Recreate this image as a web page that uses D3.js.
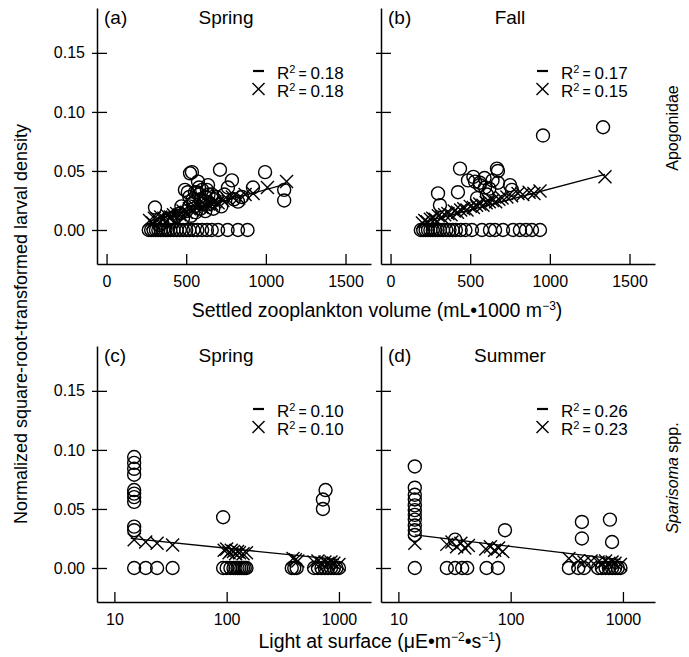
<!DOCTYPE html>
<html lang="en">
<head>
<meta charset="UTF-8">
<title>Larval density vs zooplankton and light</title>
<style>
  body { margin: 0; background: #fff; }
  svg text { font-family: 'Liberation Sans', Arial, sans-serif; fill: #000; }
</style>
</head>
<body>
<script src="https://cdnjs.cloudflare.com/ajax/libs/d3/7.8.5/d3.min.js"></script>
<script>
// (a) Apogonidae, spring — zooplankton volume vs density
var obsA = [
  [265,0],[280,0],[295,0],[310,0],[325,0],[340,0],[355,0],[370,0],[385,0],[400,0],[420,0],[440,0],[460,0],
  [480,0],[500,0],[520,0],[545,0],[570,0],[600,0],[630,0],[660,0],[700,0],[760,0],[825,0],[885,0],
  [304,.019],[330,.004],[350,.006],[380,.008],[400,.010],[420,.007],[440,.012],[460,.014],[480,.010],
  [492,.034],[500,.016],[510,.032],[520,.020],[524,.048],[536,.049],[540,.026],[555,.032],[568,.032],
  [574,.041],[580,.030],[590,.018],[600,.034],[610,.025],[620,.028],[637,.038],[650,.022],[660,.030],
  [680,.026],[712,.051],[720,.020],[740,.030],[762,.036],[787,.042],[800,.026],[825,.024],[850,.028],
  [919,.036],[995,.049],[1115,.034],[1115,.025],
  [470,.020],[520,.028],[530,.012],[550,.024],[560,.015],[580,.036],[590,.026],[600,.022],[620,.016],
  [630,.034],[640,.030],[670,.018],[690,.028]
];
var predA = [
  [270,.008],[290,.006],[300,.010],[320,.009],[340,.011],[360,.010],[380,.012],[400,.011],[420,.013],
  [440,.014],[460,.013],[480,.016],[500,.015],[520,.018],[540,.017],[560,.019],[580,.020],[600,.019],
  [620,.021],[640,.022],[660,.022],[680,.024],[700,.023],[730,.025],[760,.026],[790,.028],[830,.027],
  [870,.030],[920,.031],[1010,.036],[1130,.041]
];
var fitA = [[260,.007],[1130,.039]];
var r2A = ['0.18', '0.18'];

// (b) Apogonidae, fall
var obsB = [
  [190,0],[205,0],[220,0],[235,0],[250,0],[265,0],[280,0],[295,0],[310,0],[330,0],[350,0],[370,0],[390,0],
  [410,0],[440,0],[470,0],[511,0],[574,0],[624,0],[656,0],[706,0],[769,0],[812,0],[850,0],[888,0],[938,0],
  [298,.031],[310,.021],[423,.032],[436,.052],[486,.042],[530,.041],[543,.027],[561,.040],[593,.036],
  [605,.030],[668,.052],[674,.050],[674,.040],[750,.038],[762,.034],[957,.080],[1334,.087],
  [520,.045],[560,.038],[590,.044],[620,.035],[640,.042]
];
var predB = [
  [200,.006],[215,.008],[230,.007],[250,.009],[265,.010],[280,.009],[300,.012],[320,.011],[340,.013],
  [360,.014],[380,.013],[400,.016],[420,.015],[440,.017],[460,.018],[480,.017],[500,.020],[520,.019],
  [540,.021],[560,.022],[580,.021],[600,.023],[620,.024],[640,.025],[660,.024],[680,.026],[700,.027],
  [730,.028],[760,.029],[800,.031],[830,.030],[870,.032],[900,.031],[938,.033],[1346,.045]
];
var fitB = [[190,.006],[1346,.047]];
var r2B = ['0.17', '0.15'];

// (c) Sparisoma spp., spring — surface light vs density
var obsC = [
  [15,.094],[15,.089],[15,.084],[15,.079],[15,.066],[15,.063],[15,.060],[15,.056],[15,.035],[15,.032],
  [15,0],[19,0],[24,0],[33,0],
  [93,.043],[93,0],[100,0],[108,0],[115,0],[120,0],[125,0],[130,0],[135,0],[140,0],[145,0],[150,0],
  [720,.058],[760,.066],[720,.050],
  [380,0],[400,0],[420,0],[600,0],[650,0],[700,0],[750,0],[800,0],[850,0],[900,0],[950,0],[1000,0]
];
var predC = [
  [15,.024],[19,.022],[24,.021],[33,.0195],
  [95,.015],[100,.016],[105,.013],[110,.015],[115,.014],[120,.012],[125,.014],[130,.013],[140,.012],[150,.013],
  [390,.008],[410,.007],[430,.006],[600,.005],[650,.006],[700,.004],[750,.005],[800,.004],[850,.005],
  [900,.004],[1000,.003]
];
var fitC = [[14,.025],[1000,.007]];
var r2C = ['0.10', '0.10'];

// (d) Sparisoma spp., summer
var obsD = [
  [14,.086],[14,.068],[14,.062],[14,.058],[14,.053],[14,.049],[14,.045],[14,.041],[14,.036],[14,.032],
  [14,.028],[14,0],
  [27,0],[32,0],[37,0],[41,0],[32,.024],
  [61,0],[77,0],[89,.032],
  [431,.039],[766,.041],[431,.025],[800,.022],
  [330,0],[400,0],[450,0],[600,0],[650,0],[700,0],[750,0],[800,0],[850,0],[900,0],[950,0]
];
var predD = [
  [14,.021],
  [27,.020],[30,.022],[33,.018],[36,.021],[39,.017],[42,.019],
  [60,.016],[66,.018],[72,.015],[78,.017],[85,.014],
  [330,.008],[400,.006],[450,.005],[520,.006],[600,.005],[650,.004],[700,.006],[750,.004],[800,.005],
  [850,.004],[950,.003]
];
var fitD = [[14,.028],[950,.007]];
var r2D = ['0.26', '0.23'];

var linTicks = [0, 500, 1000, 1500];
var logTicks = [10, 100, 1000];
var yTicks = [0, 0.05, 0.10, 0.15];

var W = 689, H = 657;
var pw = 274, ph = 256;

var svg = d3.select('body').append('svg')
  .attr('width', W).attr('height', H);

var xLin = d3.scaleLinear().domain([-60, 1660]).range([0, pw]);
var xLog = d3.scaleLog().domain([7, 1930]).range([0, pw]);
var y = d3.scaleLinear().domain([-0.0288, 0.188]).range([ph, 0]);

var panels = [
  {left: 97,  top: 8,   x: xLin, ticks: linTicks, obs: obsA, pred: predA, fit: fitA, r2: r2A, tag: '(a)', season: 'Spring', yLabels: true},
  {left: 381, top: 8,   x: xLin, ticks: linTicks, obs: obsB, pred: predB, fit: fitB, r2: r2B, tag: '(b)', season: 'Fall', yLabels: false},
  {left: 97,  top: 346, x: xLog, ticks: logTicks, obs: obsC, pred: predC, fit: fitC, r2: r2C, tag: '(c)', season: 'Spring', yLabels: true},
  {left: 381, top: 346, x: xLog, ticks: logTicks, obs: obsD, pred: predD, fit: fitD, r2: r2D, tag: '(d)', season: 'Summer', yLabels: false}
];

var cs = 6.5; // half size of the cross marker

function cross(g, size) {
  g.append('line').attr('x1', -size).attr('y1', -size).attr('x2', size).attr('y2', size);
  g.append('line').attr('x1', -size).attr('y1', size).attr('x2', size).attr('y2', -size);
}

panels.forEach(function (p) {
  var g = svg.append('g').attr('transform', 'translate(' + p.left + ',' + p.top + ')');
  var x = p.x;

  // y axis, ticks crossing the line
  var ya = g.append('g')
    .call(d3.axisLeft(y).tickValues(yTicks)
      .tickFormat(p.yLabels ? d3.format('.2f') : function () { return ''; })
      .tickSizeInner(5).tickSizeOuter(0).tickPadding(7));
  ya.selectAll('.tick line').attr('x1', 10);
  ya.select('.domain').attr('stroke-width', 1.5);
  ya.selectAll('.tick line').attr('stroke-width', 1.3);
  ya.selectAll('text').style('font-size', '16px').style('font-family', null);

  // x axis, ticks pointing in
  var xa = g.append('g')
    .attr('transform', 'translate(0,' + ph + ')')
    .call(d3.axisBottom(x).tickValues(p.ticks).tickFormat(d3.format('d'))
      .tickSizeInner(-10).tickSizeOuter(0).tickPadding(12));
  xa.select('.domain').attr('stroke-width', 1.5);
  xa.selectAll('.tick line').attr('stroke-width', 1.3);
  xa.selectAll('text').style('font-size', '16px').style('font-family', null);

  // observed densities
  g.selectAll('.obs').data(p.obs).enter().append('circle')
    .attr('class', 'obs')
    .attr('cx', function (d) { return x(d[0]); })
    .attr('cy', function (d) { return y(d[1]); })
    .attr('r', 6.5)
    .attr('fill', 'none').attr('stroke', '#000').attr('stroke-width', 1.4);

  // regression line
  g.append('path')
    .datum(p.fit)
    .attr('fill', 'none').attr('stroke', '#000').attr('stroke-width', 1.3)
    .attr('d', d3.line().x(function (d) { return x(d[0]); }).y(function (d) { return y(d[1]); }));

  // model predictions
  g.selectAll('.pred').data(p.pred).enter().append('g')
    .attr('class', 'pred')
    .attr('transform', function (d) { return 'translate(' + x(d[0]) + ',' + y(d[1]) + ')'; })
    .attr('stroke', '#000').attr('stroke-width', 1.4)
    .each(function () { cross(d3.select(this), cs); });

  // panel tag and season
  g.append('text').attr('x', 7).attr('y', 16).style('font-size', '19px').text(p.tag);
  g.append('text').attr('x', 129).attr('y', 16).attr('text-anchor', 'middle')
    .style('font-size', '19px').text(p.season);

  // legend
  var lg = g.append('g').attr('transform', 'translate(156,0)');
  lg.append('line').attr('x1', 0).attr('x2', 11).attr('y1', 63).attr('y2', 63)
    .attr('stroke', '#000').attr('stroke-width', 2.2);
  cross(lg.append('g').attr('transform', 'translate(5.5,81)').attr('stroke', '#000').attr('stroke-width', 1.4), 6);
  p.r2.forEach(function (v, i) {
    var t = lg.append('text').attr('x', 24).attr('y', 71 + i * 18).style('font-size', '17px');
    t.append('tspan').text('R');
    t.append('tspan').attr('dy', -6).style('font-size', '11px').text('2');
    t.append('tspan').attr('dy', 6).attr('dx', 3).style('font-size', '14px').text('=');
    t.append('tspan').attr('dx', 4).text(v);
  });
});

// axis titles
var t1 = svg.append('text').attr('x', 377).attr('y', 317).attr('text-anchor', 'middle').style('font-size', '19.5px');
t1.append('tspan').text('Settled zooplankton volume (mL\u20221000 m');
t1.append('tspan').attr('dy', -7).style('font-size', '12px').text('\u22123');
t1.append('tspan').attr('dy', 7).text(')');

var t2 = svg.append('text').attr('x', 380).attr('y', 648).attr('text-anchor', 'middle').style('font-size', '19.5px');
t2.append('tspan').text('Light at surface (\u03bcE\u2022m');
t2.append('tspan').attr('dy', -7).style('font-size', '12px').text('\u22122');
t2.append('tspan').attr('dy', 7).text('\u2022s');
t2.append('tspan').attr('dy', -7).style('font-size', '12px').text('\u22121');
t2.append('tspan').attr('dy', 7).text(')');

svg.append('text')
  .attr('transform', 'translate(27,324) rotate(-90)')
  .attr('text-anchor', 'middle').style('font-size', '18px')
  .text('Normalized square-root-transformed larval density');

svg.append('text')
  .attr('transform', 'translate(678,128) rotate(-90)')
  .attr('text-anchor', 'middle').style('font-size', '16px')
  .text('Apogonidae');

var sp = svg.append('text')
  .attr('transform', 'translate(678,478) rotate(-90)')
  .attr('text-anchor', 'middle').style('font-size', '16px');
sp.append('tspan').style('font-style', 'italic').text('Sparisoma');
sp.append('tspan').text(' spp.');
</script>
</body>
</html>
